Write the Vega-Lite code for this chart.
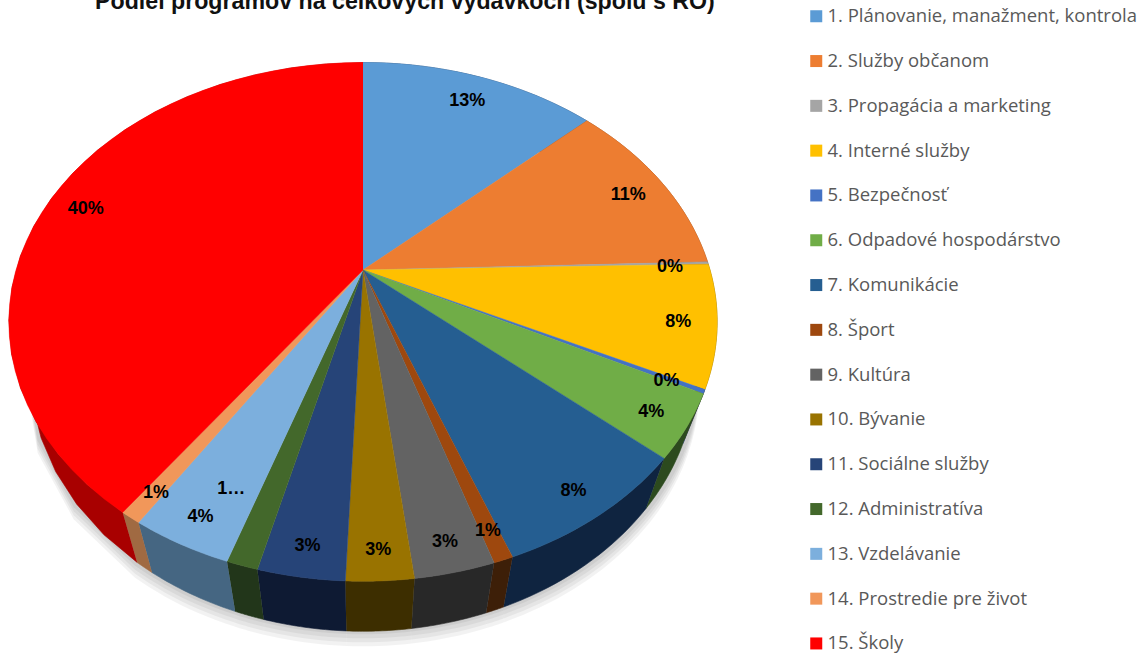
{
"$schema":"https://vega.github.io/schema/vega-lite/v6.json",
"width":1146,"height":655,"padding":0,"autosize":{"type":"none"},
"background":"#ffffff",
"view":{"stroke":null},
"title":{"text":"Podiel programov na celkových výdavkoch (spolu s RO)","font":"Liberation Sans","fontWeight":"bold","fontSize":23.2,"color":"#111111","anchor":"start","frame":"group","orient":"top","offset":-32,"dx":95,"baseline":"alphabetic"},
"data":{"values":[
{"order":1,"name":"1. Plánovanie, manažment, kontrola","value":13.1,"label":"13%"},
{"order":2,"name":"2. Služby občanom","value":11.4,"label":"11%"},
{"order":3,"name":"3. Propagácia a marketing","value":0.15,"label":"0%"},
{"order":4,"name":"4. Interné služby","value":7.6,"label":"8%"},
{"order":5,"name":"\u00a05. Bezpečnosť","value":0.25,"label":"0%"},
{"order":6,"name":"6. Odpadové hospodárstvo","value":3.95,"label":"4%"},
{"order":7,"name":"7. Komunikácie","value":7.9,"label":"8%"},
{"order":8,"name":"8. Šport","value":0.75,"label":"1%"},
{"order":9,"name":"9. Kultúra","value":3.05,"label":"3%"},
{"order":10,"name":"10. Bývanie","value":2.55,"label":"3%"},
{"order":11,"name":"11. Sociálne služby","value":3.3,"label":"3%"},
{"order":12,"name":"12. Administratíva","value":1.2,"label":"1…"},
{"order":13,"name":"13. Vzdelávanie","value":3.9,"label":"4%"},
{"order":14,"name":"14. Prostredie pre život","value":0.8,"label":"1%"},
{"order":15,"name":"15. Školy","value":40.2,"label":"40%"}
]},
"transform":[
{"joinaggregate":[{"op":"sum","field":"value","as":"total"}]},
{"window":[{"op":"sum","field":"value","as":"cum"}],"sort":[{"field":"order"}]},
{"calculate":"2*PI*(datum.cum-datum.value)/datum.total","as":"a0"},
{"calculate":"2*PI*datum.cum/datum.total","as":"a1"}
],
"layer":[
{
"transform":[
{"calculate":"[3,7,11,15]","as":"s"},
{"flatten":["s"]},
{"calculate":"[-1,0,4,8,12,16,20,24,28,32,36,40]","as":"k"},
{"flatten":["k"]},
{"calculate":"datum.a0+(datum.a1-datum.a0)*datum.k/40","as":"ang"},
{"calculate":"1+0.2*cos(datum.ang)","as":"w"},
{"calculate":"datum.k<0 ? 363 : 363+0.95*347*sin(datum.ang)/datum.w","as":"px"},
{"calculate":"datum.k<0 ? 320 : 270-249*cos(datum.ang)/datum.w+50+datum.s","as":"py"}
],
"mark":{"type":"line","strokeWidth":0,"fill":"#000000","fillOpacity":0.05},
"encoding":{
"x":{"field":"px","type":"quantitative","scale":{"domain":[0,1146],"nice":false,"zero":false},"axis":null},
"y":{"field":"py","type":"quantitative","scale":{"domain":[655,0],"nice":false,"zero":false},"axis":null},
"order":{"field":"k","type":"quantitative"},
"detail":[{"field":"name","type":"nominal"},{"field":"s","type":"nominal"}]
}
},
{
"transform":[
{"calculate":"[0,2,4,6,8,10,12,14,16,18,20,22,24,26,28,30,32,34,36,38,40,100,102,104,106,108,110,112,114,116,118,120,122,124,126,128,130,132,134,136,138,140]","as":"k"},
{"flatten":["k"]},
{"calculate":"datum.k<=40 ? datum.a0+(datum.a1-datum.a0)*datum.k/40 : datum.a1-(datum.a1-datum.a0)*(datum.k-100)/40","as":"ang"},
{"calculate":"1+0.2*cos(datum.ang)","as":"w"},
{"calculate":"363+(datum.k<=40?1:0.94)*347*sin(datum.ang)/datum.w","as":"px"},
{"calculate":"270-249*cos(datum.ang)/datum.w+(datum.k<=40?0:50)","as":"py"}
],
"mark":{"type":"line","strokeWidth":0.6,"interpolate":"linear"},
"encoding":{
"x":{"field":"px","type":"quantitative","scale":{"domain":[0,1146],"nice":false,"zero":false},"axis":null},
"y":{"field":"py","type":"quantitative","scale":{"domain":[655,0],"nice":false,"zero":false},"axis":null},
"order":{"field":"k","type":"quantitative"},
"fill":{"field":"name","type":"nominal","legend":null,"scale":{"domain":["1. Plánovanie, manažment, kontrola","2. Služby občanom","3. Propagácia a marketing","4. Interné služby","\u00a05. Bezpečnosť","6. Odpadové hospodárstvo","7. Komunikácie","8. Šport","9. Kultúra","10. Bývanie","11. Sociálne služby","12. Administratíva","13. Vzdelávanie","14. Prostredie pre život","15. Školy"],"range":["#2c4a70","#8a4a1c","#555555","#7a6000","#203866","#2c4a1e","#0f2440","#3d1f08","#282828","#3d2e00","#0e1a33","#22361a","#456682","#a06a42","#a80000"]}},
"stroke":{"field":"name","type":"nominal","legend":null,"scale":{"domain":["1. Plánovanie, manažment, kontrola","2. Služby občanom","3. Propagácia a marketing","4. Interné služby","\u00a05. Bezpečnosť","6. Odpadové hospodárstvo","7. Komunikácie","8. Šport","9. Kultúra","10. Bývanie","11. Sociálne služby","12. Administratíva","13. Vzdelávanie","14. Prostredie pre život","15. Školy"],"range":["#2c4a70","#8a4a1c","#555555","#7a6000","#203866","#2c4a1e","#0f2440","#3d1f08","#282828","#3d2e00","#0e1a33","#22361a","#456682","#a06a42","#a80000"]}}
}
},
{
"transform":[
{"calculate":"[-1,0,1,2,3,4,5,6,7,8,9,10,11,12,13,14,15,16,17,18,19,20,21,22,23,24,25,26,27,28,29,30,31,32,33,34,35,36,37,38,39,40]","as":"k"},
{"flatten":["k"]},
{"calculate":"datum.a0+(datum.a1-datum.a0)*datum.k/40","as":"ang"},
{"calculate":"1+0.2*cos(datum.ang)","as":"w"},
{"calculate":"datum.k<0 ? 363 : 363+347*sin(datum.ang)/datum.w","as":"px"},
{"calculate":"datum.k<0 ? 270 : 270-249*cos(datum.ang)/datum.w","as":"py"}
],
"mark":{"type":"line","strokeWidth":0.5},
"encoding":{
"x":{"field":"px","type":"quantitative","scale":{"domain":[0,1146],"nice":false,"zero":false},"axis":null},
"y":{"field":"py","type":"quantitative","scale":{"domain":[655,0],"nice":false,"zero":false},"axis":null},
"order":{"field":"k","type":"quantitative"},
"fill":{"field":"name","type":"nominal","scale":{"domain":["1. Plánovanie, manažment, kontrola","2. Služby občanom","3. Propagácia a marketing","4. Interné služby","\u00a05. Bezpečnosť","6. Odpadové hospodárstvo","7. Komunikácie","8. Šport","9. Kultúra","10. Bývanie","11. Sociálne služby","12. Administratíva","13. Vzdelávanie","14. Prostredie pre život","15. Školy"],"range":["#5b9bd5","#ed7d31","#a5a5a5","#ffc000","#4472c4","#70ad47","#255e91","#9e480e","#636363","#997300","#264478","#43682b","#7cafdd","#f1975a","#ff0000"]},
"legend":{"orient":"none","legendX":807,"legendY":7,"title":null,"symbolType":"square","symbolSize":144,"symbolStrokeWidth":0,"labelFont":"Open Sans","labelFontSize":18.5,"labelColor":"#595959","labelOffset":2,"rowPadding":25.8,"labelLimit":340,"padding":0}},
"stroke":{"field":"name","type":"nominal","legend":null,"scale":{"domain":["1. Plánovanie, manažment, kontrola","2. Služby občanom","3. Propagácia a marketing","4. Interné služby","\u00a05. Bezpečnosť","6. Odpadové hospodárstvo","7. Komunikácie","8. Šport","9. Kultúra","10. Bývanie","11. Sociálne služby","12. Administratíva","13. Vzdelávanie","14. Prostredie pre život","15. Školy"],"range":["#5b9bd5","#ed7d31","#a5a5a5","#ffc000","#4472c4","#70ad47","#255e91","#9e480e","#636363","#997300","#264478","#43682b","#7cafdd","#f1975a","#ff0000"]}}
}
},
{
"transform":[
{"filter":"datum.label!=='1…'"},
{"calculate":"(datum.a0+datum.a1)/2","as":"ang"},
{"calculate":"1+0.2*cos(datum.ang)","as":"w"},
{"calculate":"363+0.89*347*sin(datum.ang)/datum.w","as":"px"},
{"calculate":"270-0.89*249*cos(datum.ang)/datum.w","as":"py"}
],
"mark":{"type":"text","font":"Liberation Sans","fontWeight":"bold","fontSize":18,"color":"#000000","dy":3},
"encoding":{
"x":{"field":"px","type":"quantitative","scale":{"domain":[0,1146],"nice":false,"zero":false},"axis":null},
"y":{"field":"py","type":"quantitative","scale":{"domain":[655,0],"nice":false,"zero":false},"axis":null},
"text":{"field":"label","type":"nominal"}
}
},
{
"transform":[
{"filter":"datum.label==='1…'"},
{"calculate":"(datum.a0+datum.a1)/2","as":"ang"},
{"calculate":"1+0.2*cos(datum.ang)","as":"w"},
{"calculate":"363+0.89*347*sin(datum.ang)/datum.w","as":"px"},
{"calculate":"270-0.89*249*cos(datum.ang)/datum.w","as":"py"}
],
"mark":{"type":"text","font":"Liberation Sans","fontWeight":"bold","fontSize":18,"color":"#000000","dx":-24,"dy":-44},
"encoding":{
"x":{"field":"px","type":"quantitative","scale":{"domain":[0,1146],"nice":false,"zero":false},"axis":null},
"y":{"field":"py","type":"quantitative","scale":{"domain":[655,0],"nice":false,"zero":false},"axis":null},
"text":{"field":"label","type":"nominal"}
}
}
],
"resolve":{"scale":{"fill":"independent","stroke":"independent"}}
}
